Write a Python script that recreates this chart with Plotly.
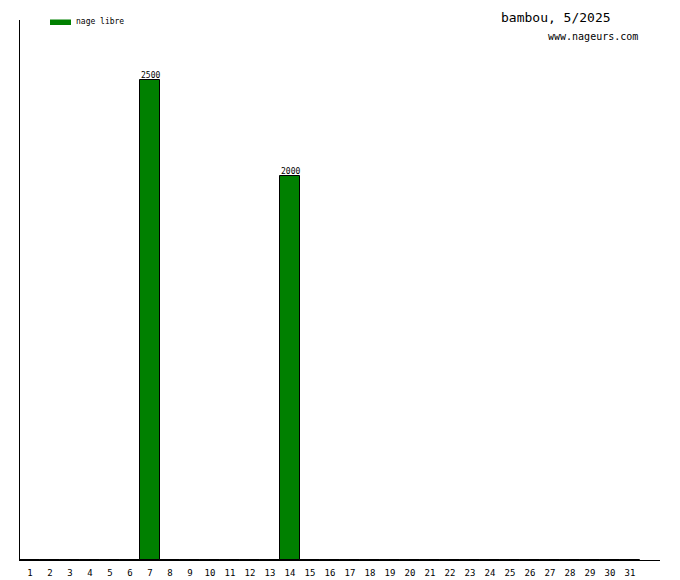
import plotly.graph_objects as go

days = list(range(1, 32))
nage_libre = [0]*31
nage_libre[6] = 2500
nage_libre[13] = 2000
series_name = "nage libre"
title_text = "bambou, 5/2025"
site_text = "www.nageurs.com"

mono = "DejaVu Sans Mono"

fig = go.Figure()
fig.add_trace(go.Bar(
    x=days, y=nage_libre, name=series_name,
    marker=dict(color="#008000", line=dict(color="black", width=1)),
    width=1.0,
    showlegend=False,
))

for d, v in zip(days, nage_libre):
    if v:
        fig.add_annotation(x=d, y=v, text=str(v), showarrow=False,
                           xanchor="center", yanchor="bottom", yshift=-2,
                           font=dict(family=mono, size=8, color="black"))

# page body has an 8px margin, so the figure is shifted by 8px
fig.update_layout(
    width=672, height=572,
    margin=dict(l=12, r=20, t=12, b=20),
    paper_bgcolor="white", plot_bgcolor="white",
    bargap=0,
    xaxis=dict(range=[0.5, 32.5], tickvals=days, ticktext=[str(d) for d in days],
               showgrid=False, zeroline=False, showline=True, linecolor="black", linewidth=1,
               ticks="", tickfont=dict(family=mono, size=9, color="black"),
               ticklabelstandoff=4, automargin=False),
    yaxis=dict(range=[0, 2812.5], showticklabels=False, showgrid=False, zeroline=False,
               showline=True, linecolor="black", linewidth=1, ticks="", automargin=False),
    shapes=[dict(type="rect", xref="paper", yref="paper",
                 x0=(50-20)/640, x1=(71-20)/640, y0=(560-25)/540, y1=(560-19.5)/540,
                 fillcolor="#008000", line=dict(width=0))],
)
fig.add_annotation(text=series_name, xref="paper", yref="paper", x=(74-20)/640, y=(560-22)/540,
                   xanchor="left", yanchor="middle", showarrow=False,
                   font=dict(family=mono, size=8, color="black"))
fig.add_annotation(text=title_text, xref="paper", yref="paper", x=(613-20)/640, y=(560-18)/540,
                   xanchor="right", yanchor="middle", showarrow=False,
                   font=dict(family=mono, size=13, color="black"))
fig.add_annotation(text=site_text, xref="paper", yref="paper", x=(640-20)/640, y=(560-37)/540,
                   xanchor="right", yanchor="middle", showarrow=False,
                   font=dict(family=mono, size=10, color="black"))

fig.write_html("out.html")
